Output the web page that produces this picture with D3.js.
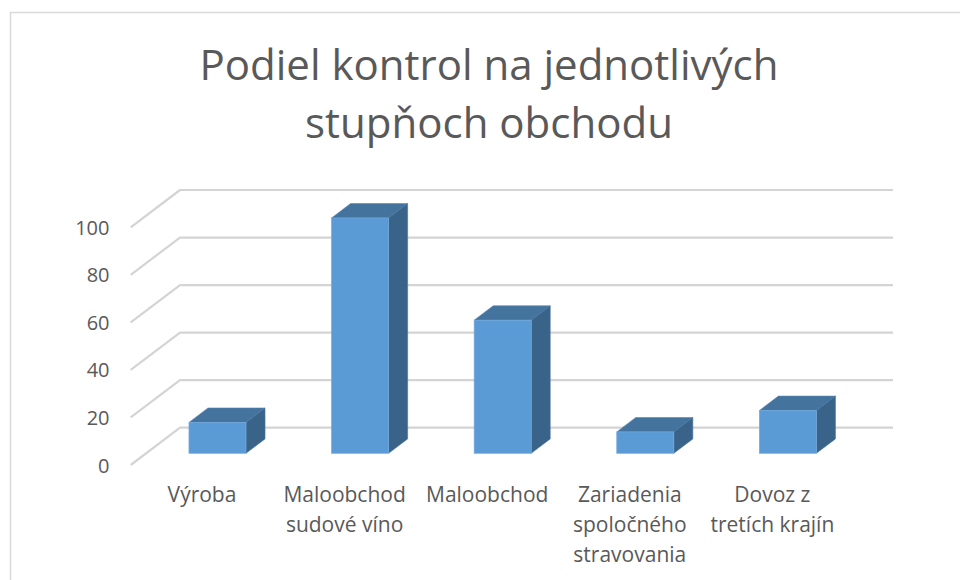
<!DOCTYPE html>
<html>
<head>
<meta charset="utf-8">
<script src="https://cdn.jsdelivr.net/npm/d3@7"></script>
<style>
  html, body { margin: 0; padding: 0; background: #fff; }
  svg { display: block; }
  text { font-family: "Open Sans", "Liberation Sans", sans-serif; fill: #595959; }
</style>
</head>
<body>
<svg id="chart" width="960" height="580"></svg>
<script>
// ---- data ----
const titleLines = ["Podiel kontrol na jednotlivých", "stupňoch obchodu"];
const categories = ["Výroba", "Maloobchod sudové víno", "Maloobchod", "Zariadenia spoločného stravovania", "Dovoz z tretích krajín"];
const values = [13, 99, 56, 9, 18];
const yTicks = [0, 20, 40, 60, 80, 100];

// ---- layout ----
const W = 960, H = 580;
const svg = d3.select("#chart");

// chart border
svg.append("rect").attr("x", 10.5).attr("y", 12.5).attr("width", 960).attr("height", 580)
  .attr("fill", "#fff").attr("stroke", "#d9d9d9").attr("stroke-width", 1.5);

// title
const title = svg.append("text").attr("text-anchor", "middle").style("font-size", "42px");
titleLines.forEach((t, i) => {
  title.append("tspan").attr("x", 489).attr("y", 80 + i * 58).text(t);
});

// projection: front plane + depth offset
const frontLeft = 130.7, frontRight = 843.7;
const DX = 49.3, DY = -37.3;            // full depth offset (front -> back wall)
const d0 = 0.314, d1 = 0.70;            // bar depth fraction range

const x = d3.scaleBand().domain(categories).range([frontLeft, frontRight])
  .paddingInner(0.6).paddingOuter(0.3);
const step = x.step();
const y = d3.scaleLinear().domain([0, 100]).range([465, 227.3]);

// gridlines (side wall diagonal + back wall horizontal)
const grid = svg.append("g");
yTicks.forEach(t => {
  const yf = y(t);
  grid.append("path")
    .attr("d", d3.line()([[frontLeft, yf], [frontLeft + DX, yf + DY], [frontRight + DX, yf + DY]]))
    .attr("fill", "none").attr("stroke", "#d4d4d4").attr("stroke-width", 2.2)
    .attr("stroke-linejoin", "round");
});

// y tick labels
const yAxis = d3.axisLeft(y).tickValues(yTicks).tickSize(0).tickPadding(0);
const ya = svg.append("g").attr("transform", `translate(109.5,0)`).call(yAxis);
ya.select(".domain").remove();
ya.selectAll("text").style("font-size", "20px").attr("fill", "#595959")
  .style("font-family", '"Open Sans", "Liberation Sans", sans-serif').attr("dy", "0.35em");

// bars
const bars = svg.append("g");
categories.forEach((c, i) => {
  const v = values[i];
  const fx = x(c), bw = x.bandwidth();
  const yv = y(v), y0 = y(0);
  const ax = fx + DX * d0, ay = DY * d0;
  const bx = fx + DX * d1, by = DY * d1;
  // top face
  bars.append("path")
    .attr("d", d3.line()([[ax, yv + ay], [ax + bw, yv + ay], [bx + bw, yv + by], [bx, yv + by]]) + "Z")
    .attr("fill", "#44739e").attr("stroke", "#5584b0").attr("stroke-width", 0.6);
  // side face
  bars.append("path")
    .attr("d", d3.line()([[ax + bw, yv + ay], [bx + bw, yv + by], [bx + bw, y0 + by], [ax + bw, y0 + ay]]) + "Z")
    .attr("fill", "#3a6389").attr("stroke", "#4a73a0").attr("stroke-width", 0.6);
  // front face
  bars.append("rect")
    .attr("x", ax).attr("y", yv + ay).attr("width", bw).attr("height", y0 - yv)
    .attr("fill", "#5b9bd5").attr("stroke", "#74aade").attr("stroke-width", 0.7);
});

// category labels (wrapped to the category step)
const labels = svg.append("g").style("font-size", "21px");
function wrap(text, maxW, probe) {
  const words = text.split(" ");
  const lines = [];
  let cur = "";
  words.forEach(w => {
    const tryS = cur ? cur + " " + w : w;
    probe.text(tryS);
    if (cur && probe.node().getComputedTextLength() > maxW) { lines.push(cur); cur = w; }
    else cur = tryS;
  });
  if (cur) lines.push(cur);
  return lines;
}
const probe = labels.append("text").attr("x", -1000).attr("y", -1000);
categories.forEach(c => {
  const cx = x(c) + x.bandwidth() / 2;
  const lines = wrap(c, step - 2, probe);
  const t = labels.append("text").attr("text-anchor", "middle");
  lines.forEach((l, j) => t.append("tspan").attr("x", cx).attr("y", 502 + j * 30).text(l));
});
probe.remove();
</script>
</body>
</html>
